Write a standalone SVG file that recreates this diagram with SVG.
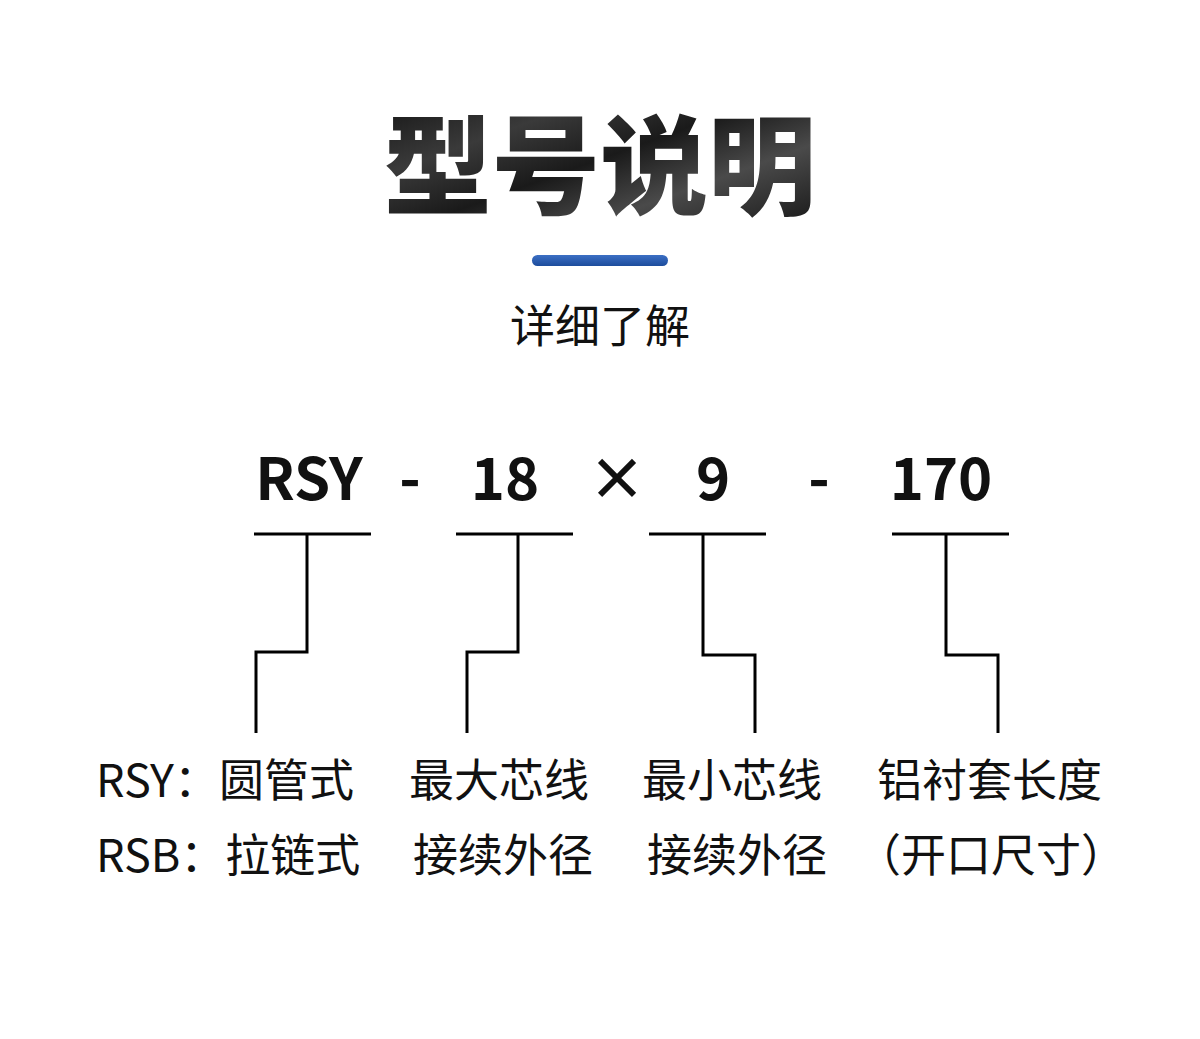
<svg xmlns="http://www.w3.org/2000/svg" width="1200" height="1039" viewBox="0 0 1200 1039">
<defs>
<linearGradient id="tg" x1="0" y1="0" x2="1" y2="1">
<stop offset="0" stop-color="#0d0d0d"/>
<stop offset="0.3" stop-color="#3a3a3a"/>
<stop offset="0.5" stop-color="#1a1a1a"/>
<stop offset="0.7" stop-color="#4a4a4a"/>
<stop offset="1" stop-color="#111"/>
</linearGradient>
<linearGradient id="bg" x1="0" y1="0" x2="0" y2="1">
<stop offset="0" stop-color="#3c6fc4"/>
<stop offset="1" stop-color="#1c4c9c"/>
</linearGradient>
<style>
.t{font-family:"Noto Sans CJK SC","Noto Sans",sans-serif;fill:#111}
.title{font-size:108px;font-weight:900;fill:url(#tg)}
.sub{font-size:45px;font-weight:400}
.code{font-size:58px;font-weight:700;text-anchor:middle}
.lab{font-size:45px;font-weight:400}
.c{fill:none;stroke:#000;stroke-width:3}
</style>
</defs>
<rect width="1200" height="1039" fill="#fff"/>
<g id="title"><text class="t title" x="600" y="206" text-anchor="middle">型号说明</text></g>
<g id="bar"><rect x="532" y="255" width="136" height="11" rx="5.5" fill="url(#bg)"/></g>
<g id="subtitle"><text class="t sub" x="600" y="343" text-anchor="middle">详细了解</text></g>
<g id="code">
<text class="t code" x="309" y="500">RSY</text>
<text class="t code" x="410" y="500">-</text>
<text class="t code" x="505" y="500">18</text>
<text class="t code" x="617" y="500" font-weight="400">×</text>
<text class="t code" x="713" y="500">9</text>
<text class="t code" x="819" y="500">-</text>
<text class="t code" x="941" y="500">170</text>
</g>
<g id="connectors">
<path class="c" d="M254 534H371M307 534V652H256V733"/>
<path class="c" d="M456 534H573M518 534V652H467V733"/>
<path class="c" d="M649 534H766M703 534V655H755V733"/>
<path class="c" d="M892 534H1009M946 534V655H998V733"/>
</g>
<g id="label-type">
<text class="t lab" x="96" y="797">RSY：圆管式</text>
<text class="t lab" x="96" y="872">RSB：拉链式</text>
</g>
<g id="label-max">
<text class="t lab" x="409" y="797">最大芯线</text>
<text class="t lab" x="413" y="872">接续外径</text>
</g>
<g id="label-min">
<text class="t lab" x="642" y="797">最小芯线</text>
<text class="t lab" x="647" y="872">接续外径</text>
</g>
<g id="label-len">
<text class="t lab" x="877" y="797">铝衬套长度</text>
<text class="t lab" x="856" y="872">（开口尺寸）</text>
</g>
</svg>
